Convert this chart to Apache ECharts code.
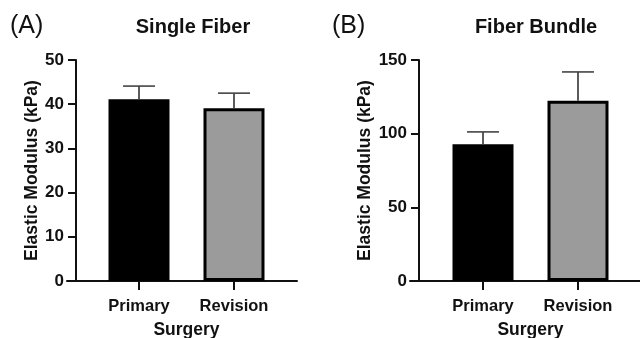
<!DOCTYPE html>
<html><head><meta charset="utf-8">
<script src="https://cdn.jsdelivr.net/npm/echarts@6/dist/echarts.min.js"></script>
<style>html,body{margin:0;padding:0;background:#fff}#c{width:640px;height:338px}</style>
</head><body><div id="c"></div>
<script>
var categories = ['Primary', 'Revision'];
var singleMean = [41.1, 39.1];
var singleErr = [3.0, 3.4];
var bundleMean = [92.8, 122.4];
var bundleErr = [8.4, 19.5];
var singleTicks = {min: 0, max: 50, interval: 10};
var bundleTicks = {min: 0, max: 150, interval: 50};
var barColors = ['#000000', '#9b9b9b'];

var FONT = '"Liberation Sans", Arial, Helvetica, sans-serif';
var chart = echarts.init(document.getElementById('c'), null, {renderer: 'canvas'});

function errSeries(gridIdx, means, errs) {
  return {
    type: 'custom', xAxisIndex: gridIdx, yAxisIndex: gridIdx, z: 5,
    data: means.map(function (m, i) { return [i, m, m + errs[i]]; }),
    renderItem: function (params, api) {
      var p0 = api.coord([api.value(0), api.value(1)]);
      var p1 = api.coord([api.value(0), api.value(2)]);
      var hw = 16;
      return {type: 'group', children: [
        {type: 'line', shape: {x1: p0[0], y1: p0[1], x2: p1[0], y2: p1[1]}, style: {stroke: '#333', lineWidth: 1.6}},
        {type: 'line', shape: {x1: p1[0] - hw, y1: p1[1], x2: p1[0] + hw, y2: p1[1]}, style: {stroke: '#444', lineWidth: 1.6}}
      ]};
    }
  };
}
function barSeries(gridIdx, means) {
  return {
    type: 'bar', xAxisIndex: gridIdx, yAxisIndex: gridIdx, barWidth: 61,
    data: means.map(function (m, i) {
      return {value: m, itemStyle: {color: barColors[i], borderColor: '#000', borderWidth: i === 0 ? 2 : 3}};
    })
  };
}
function catAxis(gridIdx) {
  return {
    type: 'category', gridIndex: gridIdx, data: categories,
    axisLine: {show: false},
    axisTick: {show: true, alignWithLabel: true, length: 9, lineStyle: {color: '#111', width: 2}},
    axisLabel: {margin: 17, fontFamily: FONT, fontWeight: 'bold', fontSize: 16.5, color: '#111'},
    name: 'Surgery', nameLocation: 'middle', nameGap: 40,
    nameTextStyle: {fontFamily: FONT, fontWeight: 'bold', fontSize: 17.5, color: '#111'}
  };
}
function valAxis(gridIdx, t, offset, gap) {
  return {
    type: 'value', gridIndex: gridIdx, min: t.min, max: t.max, interval: t.interval, offset: offset,
    splitLine: {show: false},
    axisLine: {show: true, lineStyle: {color: '#111', width: 2}},
    axisTick: {show: true, length: 8, lineStyle: {color: '#111', width: 2}},
    axisLabel: {margin: 12, fontFamily: FONT, fontWeight: 'bold', fontSize: 17, color: '#111'},
    name: 'Elastic Modulus (kPa)', nameLocation: 'middle', nameGap: gap, nameRotate: 90,
    nameTextStyle: {fontFamily: FONT, fontWeight: 'bold', fontSize: 17.5, color: '#111'}
  };
}
function lineXAxis(gridIdx) {
  return {type: 'value', gridIndex: gridIdx, min: 0, max: 1, axisLine: {show: true, onZero: false, lineStyle: {color: '#111', width: 2}},
    axisTick: {show: false}, axisLabel: {show: false}, splitLine: {show: false}};
}
function hiddenY(gridIdx) {
  return {type: 'value', gridIndex: gridIdx, min: 0, max: 1, show: false};
}
function grid(left, width) {
  return {left: left, width: width, top: 60, bottom: 57, containLabel: false, outerBoundsMode: 'none'};
}

var option = {
  animation: false,
  backgroundColor: '#fff',
  title: [
    {text: '(A)', left: 5, top: 9, textStyle: {fontFamily: FONT, fontWeight: 'normal', fontSize: 25, color: '#111'}},
    {text: 'Single Fiber', left: 188, top: 12, textAlign: 'center', textStyle: {fontFamily: FONT, fontWeight: 'bold', fontSize: 20, color: '#111'}},
    {text: '(B)', left: 327, top: 9, textStyle: {fontFamily: FONT, fontWeight: 'normal', fontSize: 25, color: '#111'}},
    {text: 'Fiber Bundle', left: 531, top: 12, textAlign: 'center', textStyle: {fontFamily: FONT, fontWeight: 'bold', fontSize: 20, color: '#111'}}
  ],
  grid: [grid(91.5, 190), grid(67, 230), grid(435.5, 190), grid(410, 232)],
  xAxis: [catAxis(0), lineXAxis(1), catAxis(2), lineXAxis(3)],
  yAxis: [valAxis(0, singleTicks, 15.5, 33), hiddenY(1), valAxis(2, bundleTicks, 16.5, 45), hiddenY(3)],
  series: [
    barSeries(0, singleMean), errSeries(0, singleMean, singleErr),
    barSeries(2, bundleMean), errSeries(2, bundleMean, bundleErr)
  ]
};
chart.setOption(option);
</script></body></html>
